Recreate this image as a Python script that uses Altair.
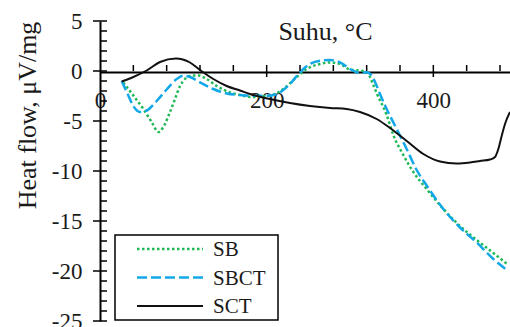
import altair as alt
import pandas as pd

# ---------------- data ----------------
SERIES = ["SB", "SBCT", "SCT"]

T_SB = [28, 40, 52, 62, 70, 76, 84, 90, 96, 102, 110, 118, 128, 140, 156, 168, 180,
        204, 220, 236, 248, 264, 276, 288, 300, 316, 322, 328, 333, 344, 352, 364,
        376, 392, 412, 432, 452, 472, 490]
V_SB = [-1.15, -2.45, -3.8, -5.1, -6.1, -5.6, -4.1, -2.8, -1.5, -0.8, -0.45, -0.45,
        -0.8, -1.5, -2.15, -2.4, -2.6, -2.45, -1.8, -0.6, 0.2, 0.7, 0.85, 0.7, 0.15,
        0.0, -0.3, -1.4, -2.4, -4.4, -6.4, -8.4, -10.1, -11.8, -13.8, -15.5, -16.9,
        -18.2, -19.4]

T_SBCT = [26, 34, 40, 48, 56, 68, 80, 92, 100, 108, 120, 136, 152, 168, 180, 204,
          216, 228, 240, 252, 264, 276, 288, 300, 312, 320, 326, 332, 336, 344, 356,
          368, 380, 392, 412, 432, 452, 472, 490]
V_SBCT = [-1.0, -2.45, -3.5, -4.1, -3.95, -3.0, -1.85, -0.8, -0.47, -0.6, -1.13,
          -1.8, -2.25, -2.4, -2.47, -2.47, -2.13, -1.3, -0.13, 0.7, 1.03, 1.1, 0.87,
          0.2, -0.2, -0.13, -0.47, -1.47, -2.3, -3.8, -5.8, -7.8, -9.9, -11.45,
          -13.8, -15.65, -17.15, -18.8, -20.0]

T_SCT = [26, 40, 56, 72, 91, 108, 120, 136, 152, 168, 180, 204, 228, 252, 276, 296,
         312, 332, 348, 368, 388, 408, 428, 444, 456, 468, 474, 478, 482, 486, 492]
V_SCT = [-1.05, -0.6, 0.05, 0.9, 1.25, 0.85, 0.1, -0.8, -1.5, -1.95, -2.3, -2.8,
         -3.2, -3.5, -3.7, -3.8, -4.1, -4.8, -5.7, -7.0, -8.3, -9.05, -9.25, -9.15,
         -9.0, -8.85, -8.6, -7.8, -6.5, -5.3, -4.1]

X_LABELS = [0, 200, 400]
X_MAJOR = [200, 400]
X_MINOR = [40, 80, 120, 160, 240, 280, 320, 360, 440, 480]
Y_LABELS = [5, 0, -5, -10, -15, -20, -25]
Y_MINOR = [v for v in range(-24, 5) if v % 5 != 0]

X_TITLE = "Suhu, °C"
Y_TITLE = "Heat flow, μV/mg"

# ---------------- styles ----------------
FONT = "Liberation Serif"
TXT = "#1a1a1a"
STYLES = {
    "SB": dict(color="#1DB954", strokeDash=[2.5, 2.5], strokeWidth=2.5),
    "SBCT": dict(color="#12A8E8", strokeDash=[10, 4], strokeWidth=2.5),
    "SCT": dict(color="#111111", strokeWidth=2),
}

xs = alt.Scale(domain=[0, 492], nice=False, zero=False)
ys = alt.Scale(domain=[-25, 5], nice=False, zero=False)

x_axis = alt.Axis(
    values=X_LABELS, ticks=False, tickSize=0, grid=False,
    domain=True, domainColor="black", domainWidth=2,
    labelFont=FONT, labelFontSize=23, labelColor=TXT, labelPadding=17,
    labelExpr="'' + datum.value", labelFlush=False,
    offset=-249,
    title=X_TITLE, titleFont=FONT, titleFontSize=26, titleFontWeight="normal",
    titleColor=TXT, titleX=225, titleY=-33, titleAlign="center",
    titleBaseline="alphabetic",
)
y_axis = alt.Axis(
    values=Y_LABELS, ticks=False, tickSize=0, grid=False,
    domain=True, domainColor="black", domainWidth=2,
    labelFont=FONT, labelFontSize=23, labelColor=TXT, labelPadding=18,
    labelExpr="'' + datum.value", labelFlush=False,
    title=Y_TITLE, titleFont=FONT, titleFontSize=26, titleFontWeight="normal",
    titleColor=TXT, titleX=-60, titleY=94, titleAlign="center",
    titleBaseline="bottom",
)

layers = []

# data lines
for name, T, V in [("SB", T_SB, V_SB), ("SBCT", T_SBCT, V_SBCT), ("SCT", T_SCT, V_SCT)]:
    df = pd.DataFrame({"T": T, "V": V})
    layers.append(
        alt.Chart(df).mark_line(interpolate="monotone", **STYLES[name]).encode(
            x=alt.X("T:Q", scale=xs, axis=x_axis),
            y=alt.Y("V:Q", scale=ys, axis=y_axis),
        )
    )

# x ticks (major cross the axis, minor above it)
for vals, off1, off2 in [(X_MAJOR, -6, 6), (X_MINOR, -6, 0)]:
    layers.append(
        alt.Chart(pd.DataFrame({"T": vals})).mark_rule(
            color="black", strokeWidth=1.5, yOffset=off1, y2Offset=off2
        ).encode(
            x=alt.X("T:Q", scale=xs, axis=x_axis),
            y=alt.YDatum(0, scale=ys, axis=y_axis),
            y2=alt.Y2Datum(0),
        )
    )

# y ticks (major cross the axis, minor to its right)
for vals, off1, off2 in [(Y_LABELS, -7, 7), (Y_MINOR, 0, 7)]:
    layers.append(
        alt.Chart(pd.DataFrame({"V": vals})).mark_rule(
            color="black", strokeWidth=1.5, xOffset=off1, x2Offset=off2
        ).encode(
            y=alt.Y("V:Q", scale=ys, axis=y_axis),
            x=alt.XDatum(0, scale=xs, axis=x_axis),
            x2=alt.X2Datum(0),
        )
    )

# legend (box, symbols, labels)
one = pd.DataFrame({"a": [0]})
LX0, LX1, LY0, LY1 = 15, 178, 214, 299
layers.append(
    alt.Chart(one).mark_rect(fill="white", stroke="black", strokeWidth=1.5).encode(
        x=alt.value(LX0), x2=alt.value(LX1), y=alt.value(LY0), y2=alt.value(LY1)
    )
)
for i, name in enumerate(SERIES):
    yy = 228 + i * 28.5
    layers.append(
        alt.Chart(one).mark_rule(**STYLES[name]).encode(
            x=alt.value(37), x2=alt.value(103), y=alt.value(yy)
        )
    )
    layers.append(
        alt.Chart(one).mark_text(
            align="left", baseline="middle", font=FONT, fontSize=21, color=TXT
        ).encode(x=alt.value(113), y=alt.value(yy + 1), text=alt.value(name))
    )

chart = alt.layer(*layers).properties(
    width=410,
    height=300,
    autosize=alt.AutoSizeParams(type="none"),
    padding={"left": 100, "top": 21, "right": 0, "bottom": 6},
    background="white",
).configure_view(stroke=None)

chart.save("out.html", embed_options={"renderer": "svg", "actions": False})
